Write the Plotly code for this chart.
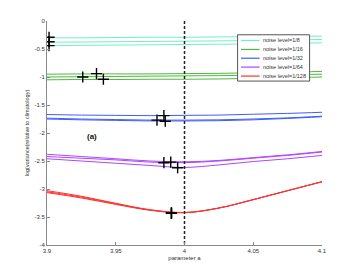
import plotly.graph_objects as go

# ---------------- data ----------------
x_grid = [3.9, 3.925, 3.95, 3.975, 4.0, 4.025, 4.05, 4.075, 4.1]

noise_labels = ["noise level=1/8", "noise level=1/16", "noise level=1/32",
                "noise level=1/64", "noise level=1/128"]

cyan_1 = [-0.30, -0.30, -0.295, -0.29, -0.29, -0.285, -0.28, -0.275, -0.27]
cyan_2 = [-0.38, -0.375, -0.37, -0.365, -0.36, -0.355, -0.35, -0.34, -0.33]
cyan_3 = [-0.44, -0.435, -0.43, -0.425, -0.42, -0.415, -0.41, -0.40, -0.39]

green_1 = [-0.95, -0.945, -0.945, -0.945, -0.94, -0.935, -0.925, -0.915, -0.90]
green_2 = [-1.00, -0.995, -0.99, -0.985, -0.98, -0.975, -0.97, -0.96, -0.95]
green_3 = [-1.05, -1.045, -1.045, -1.04, -1.04, -1.035, -1.025, -1.015, -1.00]

blue_1 = [-1.67, -1.68, -1.685, -1.69, -1.685, -1.68, -1.665, -1.65, -1.63]
blue_2 = [-1.735, -1.75, -1.76, -1.77, -1.77, -1.765, -1.75, -1.73, -1.70]
blue_3 = [-1.75, -1.765, -1.775, -1.785, -1.785, -1.78, -1.765, -1.74, -1.71]

purple_1 = [-2.38, -2.42, -2.46, -2.50, -2.515, -2.49, -2.44, -2.39, -2.33]
purple_2 = [-2.42, -2.45, -2.48, -2.52, -2.53, -2.50, -2.45, -2.40, -2.34]
purple_3 = [-2.46, -2.50, -2.54, -2.58, -2.615, -2.57, -2.51, -2.46, -2.40]

red_1 = [-3.03, -3.13, -3.255, -3.37, -3.42, -3.34, -3.19, -3.03, -2.87]
red_2 = [-3.05, -3.145, -3.265, -3.375, -3.42, -3.34, -3.19, -3.03, -2.87]
red_3 = [-3.065, -3.16, -3.275, -3.38, -3.425, -3.34, -3.19, -3.03, -2.87]

# minima markers
min_x = [3.9015, 3.9015, 3.9015,
         3.926, 3.936, 3.941,
         3.985, 3.980, 3.986,
         3.985, 3.990, 3.995,
         3.9905, 3.9905, 3.9905]
min_y = [-0.29, -0.37, -0.44,
         -1.00, -0.94, -1.04,
         -1.69, -1.77, -1.79,
         -2.53, -2.52, -2.62,
         -3.43, -3.43, -3.43]

x_ticks = [3.9, 3.95, 4.0, 4.05, 4.1]
x_tick_text = ["3.9", "3.95", "4", "4.05", "4.1"]
y_ticks = [0, -0.5, -1, -1.5, -2, -2.5, -3, -3.5, -4]
y_tick_text = ["0", "-0.5", "-1", "-1.5", "-2", "-2.5", "-3", "-3.5", "-4"]

ref_a = [4.0, 4.0]
ref_y = [0, -4]

colors = ["#6ff0c4", "#4fb83c", "#3f5cff", "#b044ff", "#ff3030"]
groups = [(cyan_1, cyan_2, cyan_3), (green_1, green_2, green_3),
          (blue_1, blue_2, blue_3), (purple_1, purple_2, purple_3),
          (red_1, red_2, red_3)]

# ---------------- figure ----------------
# page body has an 8px margin, so the figure starts at (8, 8)
OFF = 8
W, H = 354 - OFF, 275 - OFF
ML, MT = 46.7 - OFF, 20.5 - OFF
PW, PH = 275, 224.5
MR, MB = W - ML - PW, H - MT - PH

fig = go.Figure()
for grp, col, lab in zip(groups, colors, noise_labels):
    for ys in grp:
        fig.add_trace(go.Scatter(x=x_grid, y=ys, mode="lines", name=lab,
                                 line=dict(color=col, width=1, shape="spline"),
                                 showlegend=False))

fig.add_trace(go.Scatter(x=ref_a, y=ref_y, mode="lines", showlegend=False,
                         line=dict(color="#222", width=1.5, dash="3px,2px")))

fig.add_trace(go.Scatter(x=min_x, y=min_y, mode="markers", showlegend=False,
                         marker=dict(symbol="cross-thin", size=8, color="black",
                                     line=dict(width=1.4, color="black"))))


def px2paper(px, py):
    # px, py are page pixel coords in the 354x275 window
    return (px - OFF - ML) / PW, (H - MB - (py - OFF)) / PH


shapes = []
annotations = []
# manual legend box
x0, y0 = px2paper(237.3, 34.3)
x1, y1 = px2paper(309.3, 80.7)
shapes.append(dict(type="rect", xref="paper", yref="paper", x0=x0, y0=y1, x1=x1, y1=y0,
                   line=dict(color="#555", width=1), fillcolor="white", layer="above"))
row_y = [40, 49, 57.8, 66.7, 75.7]
for ry, col, lab in zip(row_y, colors, noise_labels):
    lx0, ly = px2paper(240.7, ry)
    lx1, _ = px2paper(259.3, ry)
    shapes.append(dict(type="line", xref="paper", yref="paper", x0=lx0, x1=lx1,
                       y0=ly, y1=ly, line=dict(color=col, width=1.2), layer="above"))
    tx, _ = px2paper(260.5, ry)
    annotations.append(dict(x=tx, y=ly, xref="paper", yref="paper", text=lab,
                            showarrow=False, xanchor="left", yanchor="middle",
                            font=dict(size=5.5, color="#333", family="Liberation Sans")))

annotations.append(dict(x=3.933, y=-2.07, xref="x", yref="y", text="<b>(a)</b>",
                        showarrow=False, font=dict(size=8, color="#111",
                                                   family="Liberation Sans")))

fig.update_layout(
    width=W, height=H,
    margin=dict(l=ML, r=MR, t=MT, b=MB, pad=0),
    paper_bgcolor="white", plot_bgcolor="white",
    font=dict(family="Liberation Sans", size=6, color="#333"),
    shapes=shapes, annotations=annotations,
    xaxis=dict(range=[3.9, 4.1], tickvals=x_ticks, ticktext=x_tick_text,
               showgrid=False, zeroline=False, showline=True, linecolor="#888",
               linewidth=1, ticks="inside", ticklen=3, tickcolor="#888",
               tickfont=dict(size=6, color="#333"),
               title=dict(text="parameter a", font=dict(size=6, color="#333"),
                          standoff=2),
               automargin=False),
    yaxis=dict(range=[-4, 0], tickvals=y_ticks, ticktext=y_tick_text,
               showgrid=False, zeroline=False, showline=True, linecolor="#888",
               linewidth=1, ticks="inside", ticklen=3, tickcolor="#888",
               tickfont=dict(size=6, color="#333"),
               title=dict(text="log(variance(relative to climatology)",
                          font=dict(size=5.5, color="#333"), standoff=4),
               automargin=False),
)

fig.write_html("out.html")
